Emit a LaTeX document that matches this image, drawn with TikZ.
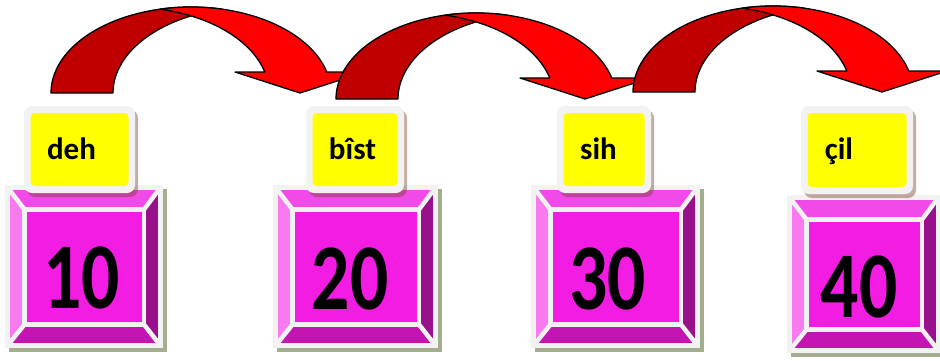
\documentclass[tikz,border=0pt]{standalone}
\usepackage{fontspec}
\setmainfont{Carlito}
\definecolor{framegray}{RGB}{242,242,242}
\definecolor{boxshadow}{RGB}{163,174,142}
\definecolor{face}{RGB}{243,28,226}
\definecolor{bevtop}{RGB}{241,74,232}
\definecolor{bevleft}{RGB}{248,122,238}
\definecolor{bevright}{RGB}{152,16,140}
\definecolor{bevbot}{RGB}{196,20,178}
\definecolor{labyellow}{RGB}{255,255,0}
\definecolor{labshade}{RGB}{120,60,40}
\definecolor{arrdark}{RGB}{192,0,0}
\definecolor{arrlight}{RGB}{255,0,0}
\newcommand\numtxt[1]{\scalebox{0.9}[1.12]{#1}}
\tikzset{
  bevline/.style={draw=framegray, line width=4.5, line join=round},
  arrline/.style={draw=black, line width=1.3, line join=round},
  labtext/.style={inner sep=0, anchor=base, font=\bfseries\fontsize{31}{31}\selectfont},
  numtext/.style={inner sep=0, anchor=center, font=\bfseries\fontsize{84}{84}\selectfont}
}
\newcommand\bevbox[4]{%
  \pgfmathsetmacro\bxa{#1+3}\pgfmathsetmacro\bya{#2+3}%
  \pgfmathsetmacro\bxb{#3-3}\pgfmathsetmacro\byb{#4-3}%
  \pgfmathsetmacro\bxc{#1+19.5}\pgfmathsetmacro\byc{#2+24.5}%
  \pgfmathsetmacro\bxd{#3-19}\pgfmathsetmacro\byd{#4-23.5}%
  \fill[boxshadow] ({#1+4},{#2+4}) rectangle ({#3+4},{#4+4});
  \fill[framegray] (#1,#2) rectangle (#3,#4);
  \fill[bevtop] (\bxa,\bya) -- (\bxb,\bya) -- (\bxd,\byc) -- (\bxc,\byc) -- cycle;
  \fill[bevbot] (\bxa,\byb) -- (\bxb,\byb) -- (\bxd,\byd) -- (\bxc,\byd) -- cycle;
  \fill[bevleft] (\bxa,\bya) -- (\bxc,\byc) -- (\bxc,\byd) -- (\bxa,\byb) -- cycle;
  \fill[bevright] (\bxb,\bya) -- (\bxd,\byc) -- (\bxd,\byd) -- (\bxb,\byb) -- cycle;
  \fill[face] (\bxc,\byc) rectangle (\bxd,\byd);
  \draw[bevline] (\bxc,\byc) rectangle (\bxd,\byd);
  \draw[bevline] (\bxa,\bya) rectangle (\bxb,\byb);
  \draw[bevline] (\bxa,\bya) -- (\bxc,\byc) (\bxb,\bya) -- (\bxd,\byc)
                 (\bxa,\byb) -- (\bxc,\byd) (\bxb,\byb) -- (\bxd,\byd);
}
\newcommand\labbox[4]{%
  \fill[labshade, opacity=0.42, rounded corners=8] ({#1+3},{#2+4}) rectangle ({#3+3},{#4+4});
  \fill[framegray, rounded corners=8] (#1,#2) rectangle (#3,#4);
  \fill[labyellow, rounded corners=4] ({#1+6.5},{#2+7}) rectangle ({#3-6.5},{#4-7});
}
\newcommand\curvarrow[2]{%
  \begin{scope}[shift={(#1,#2)}]
    \filldraw[arrline, fill=arrdark]
      plot[domain=180:282.8, samples=60] ({191+140*cos(\x)},{93+86*sin(\x)})
      -- plot[domain=257.2:180, samples=60] ({253+140*cos(\x)},{93+86*sin(\x)})
      -- cycle;
    \filldraw[arrline, fill=arrlight]
      (264.8,72) -- (235,72) -- (300,93) -- (365,72) -- (326.8,72)
      -- plot[domain=345.87:257.2, samples=80] ({191+140*cos(\x)},{93+86*sin(\x)})
      -- plot[domain=282.8:345.87, samples=80] ({129+140*cos(\x)},{93+86*sin(\x)})
      -- cycle;
  \end{scope}
}
\begin{document}
\begin{tikzpicture}[x=1pt, y=-1pt]
  \useasboundingbox[fill=white] (0,0) rectangle (940,360);
  % boxes
  \bevbox{5}{185}{163}{348}
  \bevbox{273}{185}{438}{348}
  \bevbox{531}{185}{700}{348}
  \bevbox{787}{195}{941}{353}
  \node[numtext] (n10) at (81.5,278) {\numtxt{10}};
  \node[numtext] (n20) at (350,279) {\numtxt{20}};
  \node[numtext] (n30) at (607.5,278.5) {\numtxt{30}};
  \node[numtext] (n40) at (859,286.5) {\numtxt{40}};
  % labels
  \labbox{24}{106}{135}{193}
  \labbox{306}{106}{404}{193}
  \labbox{557}{106}{651}{193}
  \labbox{801}{106}{913}{194}
  \node[labtext] (l10) at (71.5,159) {deh};
  \node[labtext] (l20) at (352.5,159) {bîst};
  \node[labtext] (l30) at (598.5,159) {sih};
  \node[labtext] (l40) at (839,159) {çil};
  % arrows
  \curvarrow{0}{0}
  \curvarrow{285}{6}
  \curvarrow{582}{-1}
\end{tikzpicture}
\end{document}
